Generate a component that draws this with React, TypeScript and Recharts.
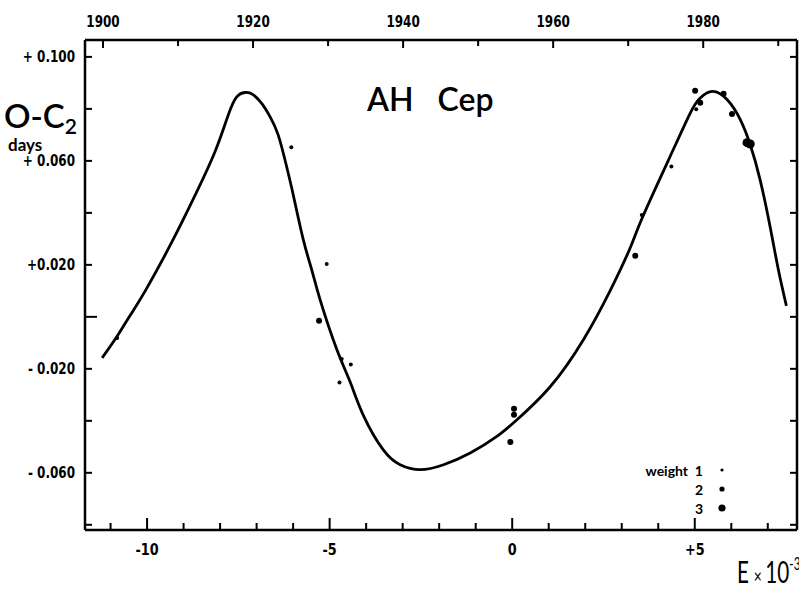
import { ComposedChart, Line, Scatter, XAxis, YAxis } from 'recharts';

// fitted O-C curve (E in thousands of cycles, O-C in days)
const CURVE_E = [
  -11.23, -10.83, -10.47, -10.05, -9.32, -8.68, -8.14, -7.78, -7.55, -7.32, -7.1, -6.85, -6.63, -6.41,
  -6.19, -5.99, -5.72, -5.49, -5.26, -4.8, -4.44, -4.07, -3.53, -3.07, -2.52, -1.88, -1.15, -0.42, 0.13,
  1.04, 1.95, 2.68, 3.23, 3.56, 4.27, 4.88, 5.15, 5.48, 5.89, 6.25, 6.52, 6.79, 7.07, 7.29, 7.51,
];
const CURVE_OC = [
  -0.0158, -0.0077, 0.0004, 0.01, 0.0288, 0.0469, 0.0635, 0.0775, 0.0845, 0.0863, 0.0855, 0.0819, 0.0769,
  0.07, 0.0585, 0.0465, 0.0296, 0.0181, 0.0065, -0.0127, -0.025, -0.0381, -0.0512, -0.0569, -0.0588,
  -0.0569, -0.0524, -0.046, -0.0396, -0.0269, -0.0088, 0.01, 0.0265, 0.038, 0.06, 0.0785, 0.0842,
  0.0867, 0.0835, 0.0758, 0.0662, 0.0527, 0.0342, 0.0181, 0.0042,
];

// observed minima by weight
const W1_E = [-10.82, -6.05, -5.08, -4.67, -4.42, -4.73, 3.55, 4.36, 5.04];
const W1_OC = [-0.0081, 0.0652, 0.0203, -0.0162, -0.0183, -0.0253, 0.0392, 0.0578, 0.0799];
const W2_E = [-5.29, 0.05, 0.05, -0.05, 3.37, 5.01, 5.15, 5.79, 6.02];
const W2_OC = [-0.0015, -0.0354, -0.0377, -0.0481, 0.0235, 0.087, 0.0824, 0.0858, 0.078];
const W3_E = [6.43, 6.52];
const W3_OC = [0.067, 0.0665];

const E_TICKS = [-11, -10, -9, -8, -7, -6, -5, -4, -3, -2, -1, 0, 1, 2, 3, 4, 5, 6, 7];
const E_LABELS: Record<number, string> = { [-10]: '-10', [-5]: '-5', 0: '0', 5: '+5' };
const YEAR_TICKS = [1900, 1910, 1920, 1930, 1940, 1950, 1960, 1970, 1980, 1990];
const YEAR_LABELS = [1900, 1920, 1940, 1960, 1980];
const OC_TICKS = [-0.08, -0.06, -0.04, -0.02, 0, 0.02, 0.04, 0.06, 0.08, 0.1];
const OC_LABELS: Record<string, string> = {
  '0.10': '+ 0.100',
  '0.06': '+ 0.060',
  '0.02': '+0.020',
  '-0.02': '- 0.020',
  '-0.06': '- 0.060',
};

const toPoints = (es: number[], ocs: number[]) => es.map((e, i) => ({ e, oc: ocs[i] }));

const TICK_FONT = "'DejaVu Sans', sans-serif";
const LABEL_FONT = "Lato, 'Open Sans', sans-serif";

// condensed bold label: DejaVu squeezed horizontally
const TickText = ({ x, y, anchor, size, children }: any) => (
  <text
    transform={`translate(${x},${y}) scale(0.8,1)`}
    textAnchor={anchor}
    dominantBaseline="central"
    fontFamily={TICK_FONT}
    fontWeight="bold"
    fontSize={size}
    fill="#000"
  >
    {children}
  </text>
);

const BottomTick = (props: any) => {
  const { x, y, payload } = props;
  const v = Math.round(payload.value);
  const major = v % 5 === 0;
  const label = E_LABELS[v];
  return (
    <g>
      <line x1={x} y1={y - 10} x2={x} y2={y - 10 - (major ? 12 : 7)} stroke="#000" strokeWidth={2} />
      {label && (
        <TickText x={x} y={y + 9} anchor="middle" size={16}>
          {label}
        </TickText>
      )}
    </g>
  );
};

const TopTick = (props: any) => {
  const { x, y, payload } = props;
  const show = YEAR_LABELS.includes(payload.value);
  return (
    <g>
      <line x1={x} y1={y + 14} x2={x} y2={y + 14 + (show ? 8 : 6)} stroke="#000" strokeWidth={2} />
      {show && (
        <TickText x={x} y={y - 5} anchor="middle" size={15}>
          {payload.value}
        </TickText>
      )}
    </g>
  );
};

const LeftTick = (props: any) => {
  const { x, y, payload } = props;
  const label = OC_LABELS[payload.value.toFixed(2)];
  const len = Math.abs(payload.value) < 1e-6 ? 12 : 7;
  return (
    <g>
      <line x1={x + 10} y1={y} x2={x + 10 + len} y2={y} stroke="#000" strokeWidth={2} />
      {label && (
        <TickText x={x} y={y} anchor="end" size={15}>
          {label}
        </TickText>
      )}
    </g>
  );
};

const RightTick = (props: any) => {
  const { x, y } = props;
  return <line x1={x} y1={y} x2={x - 7} y2={y} stroke="#000" strokeWidth={2} />;
};

const dot = (r: number) => (props: any) => <circle cx={props.cx} cy={props.cy} r={r} fill="#000" />;

export default function App() {
  const curve = toPoints(CURVE_E, CURVE_OC);
  const years = YEAR_TICKS.map((year) => ({ year }));
  return (
    <div style={{ position: 'absolute', left: 0, top: 0, width: 799, height: 589, background: '#fff', overflow: 'hidden' }}>
      <ComposedChart width={799} height={589} margin={{ top: 0, right: 0, bottom: 0, left: 0 }}>
        <XAxis
          dataKey="e"
          type="number"
          domain={[-11.7, 7.8]}
          allowDataOverflow
          ticks={E_TICKS}
          interval={0}
          height={59}
          tickSize={0}
          tickMargin={10}
          tick={<BottomTick />}
          axisLine={{ stroke: '#000', strokeWidth: 2.5 }}
        />
        <XAxis
          xAxisId="top"
          dataKey="year"
          orientation="top"
          type="number"
          domain={[1897.6, 1992.5]}
          allowDataOverflow
          ticks={YEAR_TICKS}
          interval={0}
          height={40}
          tickSize={0}
          tickMargin={14}
          tick={<TopTick />}
          axisLine={{ stroke: '#000', strokeWidth: 2.5 }}
        />
        <YAxis
          dataKey="oc"
          type="number"
          domain={[-0.082, 0.1065]}
          allowDataOverflow
          ticks={OC_TICKS}
          interval={0}
          width={85}
          tickSize={0}
          tickMargin={10}
          tick={<LeftTick />}
          axisLine={{ stroke: '#000', strokeWidth: 2.5 }}
        />
        <YAxis
          yAxisId="right"
          orientation="right"
          type="number"
          domain={[-0.082, 0.1065]}
          allowDataOverflow
          ticks={OC_TICKS}
          interval={0}
          width={2}
          tickSize={0}
          tickMargin={0}
          tick={<RightTick />}
          axisLine={{ stroke: '#000', strokeWidth: 2.5 }}
        />
        {/* empty series so the year axis is laid out */}
        <Line xAxisId="top" data={years} dataKey="oc" stroke="none" dot={false} legendType="none" isAnimationActive={false} />
        <Line data={curve} dataKey="oc" type="natural" stroke="#000" strokeWidth={2.8} dot={false} isAnimationActive={false} />
        <Scatter data={toPoints(W1_E, W1_OC)} dataKey="oc" shape={dot(2)} isAnimationActive={false} />
        <Scatter data={toPoints(W2_E, W2_OC)} dataKey="oc" shape={dot(3)} isAnimationActive={false} />
        <Scatter data={toPoints(W3_E, W3_OC)} dataKey="oc" shape={dot(4.5)} isAnimationActive={false} />
      </ComposedChart>

      <div style={{ position: 'absolute', left: 367, top: 83, fontFamily: LABEL_FONT, fontSize: 32, fontWeight: 600, wordSpacing: 16, lineHeight: 1, whiteSpace: 'nowrap' }}>
        AH Cep
      </div>
      <div style={{ position: 'absolute', left: 4, top: 99, fontFamily: LABEL_FONT, fontSize: 33, fontWeight: 600, lineHeight: '33px', height: 34, whiteSpace: 'nowrap' }}>
        O-C<sub style={{ fontSize: 21, verticalAlign: -6, lineHeight: 0 }}>2</sub>
      </div>
      <div style={{ position: 'absolute', left: 8, top: 136, fontFamily: LABEL_FONT, fontSize: 17, fontWeight: 700, lineHeight: 1 }}>
        days
      </div>
      <div
        style={{
          position: 'absolute',
          left: 737,
          top: 556,
          fontFamily: LABEL_FONT,
          fontSize: 30,
          lineHeight: 1,
          whiteSpace: 'nowrap',
          transform: 'scale(0.69,1)',
          transformOrigin: 'left top',
        }}
      >
        E<span style={{ fontSize: 20, margin: '0 5px 0 7px' }}>×</span>10<sup style={{ fontSize: 17, verticalAlign: 13, lineHeight: 0 }}>-3</sup>
      </div>
      <div style={{ position: 'absolute', left: 600, width: 103, top: 461, fontFamily: LABEL_FONT, fontSize: 14, fontWeight: 700, lineHeight: '19px', textAlign: 'right' }}>
        <div>weight&nbsp; 1</div>
        <div>2</div>
        <div>3</div>
      </div>
      <svg style={{ position: 'absolute', left: 712, top: 460, overflow: 'visible' }} width={20} height={60}>
        <circle cx={10} cy={10} r={1.6} fill="#000" />
        <circle cx={10} cy={29} r={2.6} fill="#000" />
        <circle cx={10} cy={48} r={3.6} fill="#000" />
      </svg>
    </div>
  );
}
